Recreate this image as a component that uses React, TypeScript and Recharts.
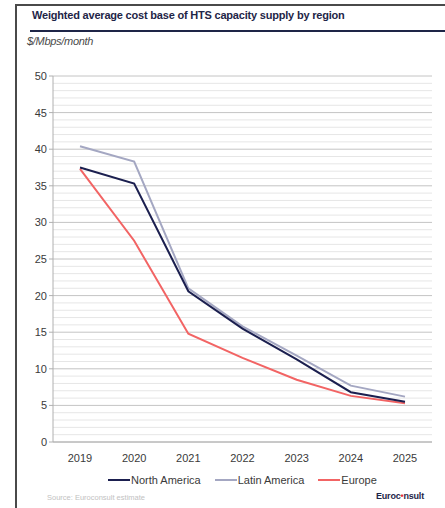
import React from "react";
import { LineChart, Line, XAxis, YAxis, CartesianGrid, ReferenceLine } from "recharts";

const YEARS = ["2019", "2020", "2021", "2022", "2023", "2024", "2025"];
const NORTH_AMERICA = [37.5, 35.3, 20.6, 15.5, 11.3, 6.8, 5.5];
const LATIN_AMERICA = [40.4, 38.3, 21.0, 15.8, 11.8, 7.7, 6.2];
const EUROPE = [37.3, 27.5, 14.8, 11.5, 8.5, 6.3, 5.3];
const Y_TICKS = [0, 5, 10, 15, 20, 25, 30, 35, 40, 45, 50];

const COLORS = {
  na: "#1b1f4f",
  latam: "#a4a7c2",
  europe: "#f26464",
  title: "#1e2547",
  text: "#3a3a3a",
  major: "#c4c4c4",
  minor: "#e6e6e6",
  axis: "#b0b0b0",
};

const data = YEARS.map((year, i) => ({
  year,
  na: NORTH_AMERICA[i],
  latam: LATIN_AMERICA[i],
  europe: EUROPE[i],
}));

// minor gridlines every 1 unit between the labelled ticks
const minorLines: number[] = [];
for (let v = 1; v < 50; v++) if (v % 5 !== 0) minorLines.push(v);

const FONT = "'Liberation Sans', Arial, sans-serif";

function LegendItem({ color, label }: { color: string; label: string }) {
  return (
    <span style={{ display: "inline-flex", alignItems: "center", marginRight: 14 }}>
      <span style={{ width: 22, height: 2, background: color, display: "inline-block", marginRight: 1 }} />
      <span>{label}</span>
    </span>
  );
}

export default function App() {
  return (
    <div
      style={{
        position: "absolute",
        left: 0,
        top: 0,
        width: 445,
        height: 508,
        background: "#fff",
        fontFamily: FONT,
        overflow: "hidden",
      }}
    >
      {/* frame */}
      <div style={{ position: "absolute", left: 15, top: 4, width: 430, height: 2, background: "#4a4a4a" }} />
      <div style={{ position: "absolute", left: 15, top: 4, width: 2, height: 504, background: "#4a4a4a" }} />
      <div
        style={{
          position: "absolute",
          left: 32,
          top: 9,
          fontSize: 11,
          fontWeight: "bold",
          color: COLORS.title,
          whiteSpace: "nowrap",
          letterSpacing: -0.2,
        }}
      >
        Weighted average cost base of HTS capacity supply by region
      </div>
      <div style={{ position: "absolute", left: 30, top: 30, width: 415, height: 2, background: COLORS.title }} />
      <div
        style={{
          position: "absolute",
          left: 27,
          top: 35,
          fontSize: 11,
          fontStyle: "italic",
          color: "#4a4a4a",
          letterSpacing: -0.3,
        }}
      >
        $/Mbps/month
      </div>

      <div style={{ position: "absolute", left: 0, top: 0 }}>
        <LineChart width={445} height={470} data={data} margin={{ top: 76, right: 13, left: 16, bottom: 0 }}>
          {minorLines.map((v) => (
            <ReferenceLine key={v} y={v} stroke={COLORS.minor} strokeWidth={1} ifOverflow="hidden" />
          ))}
          <CartesianGrid vertical={false} stroke={COLORS.major} />
          <XAxis
            dataKey="year"
            height={28}
            padding={{ left: 27, right: 27 }}
            tick={{ fill: COLORS.text, fontSize: 11, fontFamily: FONT }}
            tickLine={false}
            axisLine={{ stroke: COLORS.axis }}
            tickMargin={6}
          />
          <YAxis
            width={37}
            domain={[0, 50]}
            ticks={Y_TICKS}
            interval={0}
            tick={{ fill: COLORS.text, fontSize: 11, fontFamily: FONT }}
            tickLine={{ stroke: COLORS.axis }}
            tickSize={4}
            axisLine={{ stroke: COLORS.axis }}
          />
          <Line
            type="linear"
            dataKey="latam"
            name="Latin America"
            stroke={COLORS.latam}
            strokeWidth={2}
            dot={false}
            isAnimationActive={false}
          />
          <Line
            type="linear"
            dataKey="europe"
            name="Europe"
            stroke={COLORS.europe}
            strokeWidth={2}
            dot={false}
            isAnimationActive={false}
          />
          <Line
            type="linear"
            dataKey="na"
            name="North America"
            stroke={COLORS.na}
            strokeWidth={2}
            dot={false}
            isAnimationActive={false}
          />
        </LineChart>
      </div>

      <div
        style={{
          position: "absolute",
          left: 108,
          top: 474,
          fontSize: 11,
          color: COLORS.text,
          whiteSpace: "nowrap",
          display: "flex",
          alignItems: "center",
        }}
      >
        <LegendItem color={COLORS.na} label="North America" />
        <LegendItem color={COLORS.latam} label="Latin America" />
        <LegendItem color={COLORS.europe} label="Europe" />
      </div>

      <div style={{ position: "absolute", left: 47, top: 493, fontSize: 7.5, color: "#c2c2c2" }}>
        Source: Euroconsult estimate
      </div>
      <div
        style={{
          position: "absolute",
          left: 376,
          top: 491,
          fontSize: 9,
          fontWeight: "bold",
          color: COLORS.title,
          letterSpacing: -0.2,
        }}
      >
        Euroc<span style={{ color: "#e8303a" }}>•</span>nsult
      </div>
    </div>
  );
}
